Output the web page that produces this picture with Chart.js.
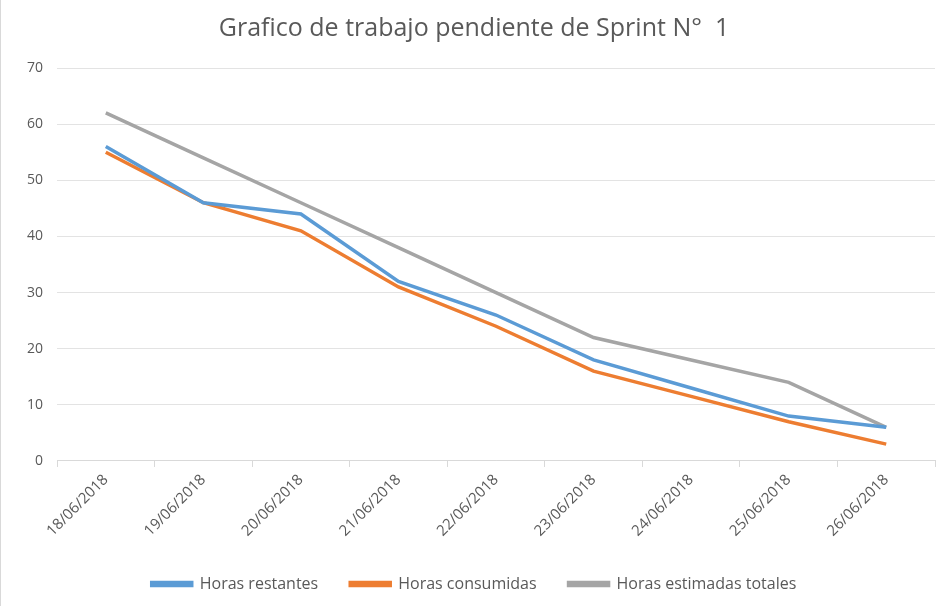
<!DOCTYPE html>
<html>
<head>
<meta charset="utf-8">
<script src="https://cdn.jsdelivr.net/npm/chart.js@4/dist/chart.umd.min.js"></script>
<style>
  html, body { margin: 0; padding: 0; background: #fff; }
  #wrap { position: relative; width: 944px; height: 606px; box-sizing: border-box; border-left: 1px solid #d9d9d9; }
</style>
</head>
<body>
<div id="wrap"><canvas id="chart"></canvas></div>
<script>
// fechas del sprint
const dias = ["18/06/2018", "19/06/2018", "20/06/2018", "21/06/2018", "22/06/2018",
              "23/06/2018", "24/06/2018", "25/06/2018", "26/06/2018"];
const horasRestantes = [56, 46, 44, 32, 26, 18, 13, 8, 6];
const horasConsumidas = [55, 46, 41, 31, 24, 16, 11.5, 7, 3];
const horasEstimadas = [62, 54, 46, 38, 30, 22, 18, 14, 6];
const ticksY = [0, 10, 20, 30, 40, 50, 60, 70];

const gris = "#595959";
Chart.defaults.font.family = "'Open Sans', sans-serif";
Chart.defaults.color = gris;

function serie(label, data, color) {
  return {
    label: label,
    data: data,
    borderColor: color,
    backgroundColor: color,
    borderWidth: 3.5,
    pointRadius: 0,
    tension: 0
  };
}

new Chart(document.getElementById("chart"), {
  type: "line",
  data: {
    labels: dias,
    datasets: [
      serie("Horas restantes", horasRestantes, "#5B9BD5"),
      serie("Horas consumidas", horasConsumidas, "#ED7D31"),
      serie("Horas estimadas totales", horasEstimadas, "#A5A5A5")
    ]
  },
  options: {
    responsive: true,
    maintainAspectRatio: false,
    animation: false,
    layout: { padding: { left: 12, right: 9, top: 10, bottom: 4 } },
    plugins: {
      title: {
        display: true,
        text: "Grafico de trabajo pendiente de Sprint N°  1",
        font: { size: 25, weight: "normal" },
        color: gris,
        padding: { top: 4, bottom: 24 }
      },
      legend: {
        position: "bottom",
        labels: {
          boxWidth: 40,
          boxHeight: 3,
          padding: 32,
          font: { size: 16 },
          color: gris
        }
      },
      tooltip: { enabled: false }
    },
    scales: {
      x: {
        offset: true,
        grid: { display: true, drawOnChartArea: false, drawTicks: true, tickLength: 6, color: "#d9d9d9", offset: true },
        border: { color: "#d9d9d9" },
        ticks: { minRotation: 45, maxRotation: 45, font: { size: 15 }, color: gris, padding: 4 }
      },
      y: {
        min: 0,
        max: 70,
        afterBuildTicks: function (axis) { axis.ticks = ticksY.map(v => ({ value: v })); },
        grid: { color: "#e3e3e3", drawTicks: false },
        border: { display: false },
        ticks: { font: { size: 14 }, color: gris, padding: 14 }
      }
    }
  }
});
</script>
</body>
</html>
